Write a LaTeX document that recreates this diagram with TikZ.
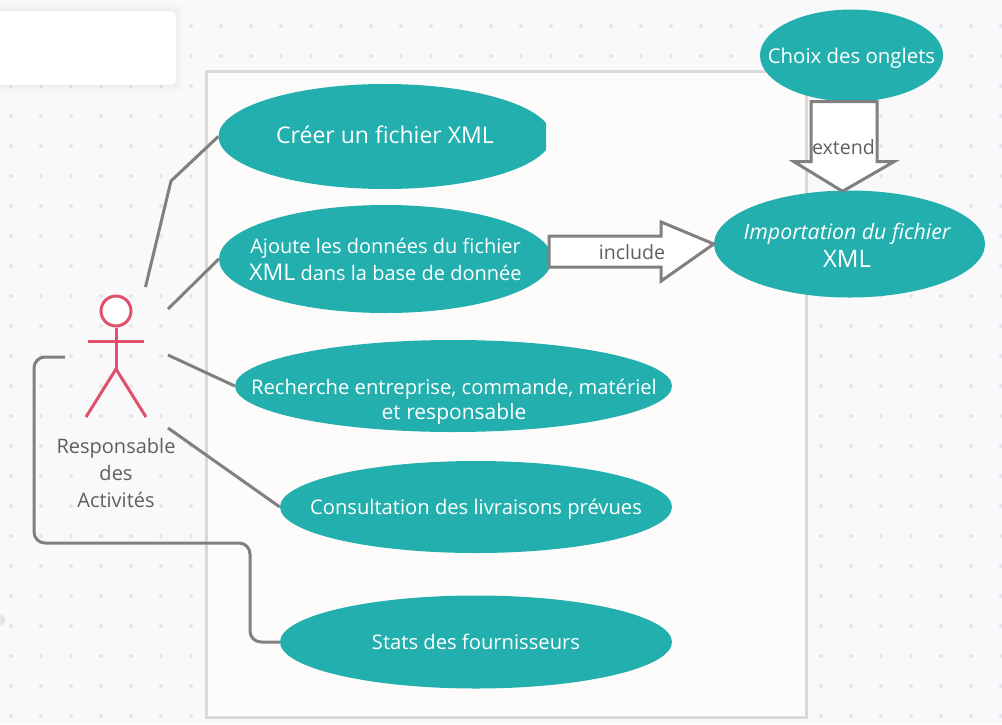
\documentclass[tikz,border=0pt]{standalone}
\usepackage{fontspec}
\setmainfont{Open Sans}
\usetikzlibrary{shapes.geometric,calc}
\definecolor{teal1}{HTML}{23AFAE}
\definecolor{pagebg}{HTML}{F9F9FC}
\definecolor{boxbg}{HTML}{FDFCFB}
\definecolor{boxline}{HTML}{D9D9D9}
\definecolor{conn}{HTML}{808080}
\definecolor{actorc}{HTML}{E0506A}
\definecolor{dotc}{HTML}{E6E6EA}
\definecolor{labelc}{HTML}{5F5F5F}
\newcommand{\fsz}[2]{\fontsize{#1}{#2}\selectfont}
\tikzset{
  usecase/.style={ellipse,fill=teal1,inner sep=0pt},
  uctext/.style={text=white,inner sep=0pt,align=center},
  link/.style={draw=conn,line width=3pt},
  blockarrow/.style={draw=conn,line width=3pt,fill=white,line join=miter},
  actorline/.style={draw=actorc,line width=3pt},
  tag/.style={text=labelc,inner sep=0pt,align=center},
}
\begin{document}
\begin{tikzpicture}[x=1pt,y=-1pt]
\useasboundingbox (0,0) rectangle (1002,724);
\fill[pagebg] (0,0) rectangle (1002,724);
% dotted grid
\foreach \i in {0,...,33}{\foreach \j in {0,...,23}{
  \fill[dotc] ({11+30*\i},{26+30*\j}) circle (2);
}}
% soft shadow and card
\foreach \s/\o in {7/0.02,5/0.025,3/0.03,1/0.035}{
  \fill[black!40,opacity=\o,rounded corners=6] (-10,{11-\s}) rectangle ({176+\s},{85+\s});
}
\fill[white,rounded corners=6] (-10,11) rectangle (176,85);
\fill[boxline!70] (0,620) circle (5.5);
% system box
\draw[boxline,line width=3pt,fill=boxbg] (206,71) rectangle (806,717);
% use cases
\begin{scope}
\clip (0,0) rectangle (546,200);
\node[usecase,minimum width=333,minimum height=105,label={[uctext,font=\fsz{23}{28},yshift=1.5pt]center:{Créer un fichier XML}}] (creer) at (385,136.5) {};
\end{scope}
\node[usecase,minimum width=333,minimum height=108] (ajoute) at (385.5,259) {};
\node[uctext,font=\fsz{20}{27}] (ajoutet) at (385.5,259.5) {Ajoute les données du fichier\\{\fsz{23}{27}XML} dans la base de donnée};
\node[usecase,minimum width=437,minimum height=92] (rech) at (453.5,386) {};
\node[uctext,font=\fsz{20.2}{25}] (recht) at (454,401.5) {Recherche entreprise, commande, matériel\\{\fsz{21}{25}et responsable}};
\node[usecase,minimum width=392,minimum height=92,label={[uctext,font=\fsz{20.2}{25},yshift=-2pt]center:{Consultation des livraisons prévues}}] (conso) at (476,507) {};
\node[usecase,minimum width=392,minimum height=93,label={[uctext,font=\fsz{20.2}{25}]center:{Stats des fournisseurs}}] (stats) at (476,642) {};
\node[usecase,minimum width=271,minimum height=107] (imp) at (849.5,244) {};
\node[uctext,font=\fsz{21.3}{28}] (impt) at (847,245.5) {{\itshape Importation du fichier}\\{\fsz{24}{28}XML}};
\node[usecase,minimum width=183,minimum height=92,label={[uctext,font=\fsz{20.4}{26},yshift=-2.5pt]center:{Choix des onglets}}] (choix) at (851.5,55.5) {};
% block arrows
\draw[blockarrow] (ajoute.east) ++(-3,-23) -- ++(112,0) -- ++(0,-14) -- (imp.west) -- ($(ajoute.east)+(109,22)$) -- ++(0,-14) -- ++(-112,0) -- cycle;
\draw[blockarrow] (choix.south) ++(-40.5,0) -- ++(0,60) -- ++(-17,0) -- ($(imp.north)+(-7,1)$) -- ($(choix.south)+(42.5,60)$) -- ++(-17,0) -- ++(0,-60) -- cycle;
\node[tag] (inc) at (632,252) {\fsz{19.6}{24}include};
\node[tag] (ext) at (843.5,147) {\fsz{19.6}{24}extend};
% actor
\node[circle,draw=actorc,line width=3pt,fill=white,minimum size=30,inner sep=0pt] (head) at (116,311) {};
\coordinate (hip) at (116,369);
\coordinate (armL) at (88,341);
\coordinate (armR) at (144,341);
\coordinate (legL) at (86,417);
\coordinate (legR) at (146,417);
\draw[actorline] (head.south) -- (hip);
\draw[actorline] (armL) -- (armR);
\draw[actorline] (legL) -- (hip) -- (legR);
\node[tag,font=\fsz{20}{27}] (actor) at (116,473) {Responsable\\des\\Activités};
% connectors
\coordinate (a1) at (145.5,287);
\coordinate (k1) at (171,181);
\coordinate (a2) at (168,309);
\coordinate (a3) at (168,355);
\coordinate (a4) at (168,428);
\coordinate (a5) at (65,357);
\draw[link] (a1) -- (k1) -- (creer.west);
\draw[link] (a2) -- (ajoute.west);
\draw[link] (a3) -- (rech.west);
\draw[link] (a4) -- (conso.west);
\draw[link,rounded corners=11] (a5) -- (34,357) -- (34,543) -- (250,543) -- (250,642) -- (stats.west);
\end{tikzpicture}
\end{document}
